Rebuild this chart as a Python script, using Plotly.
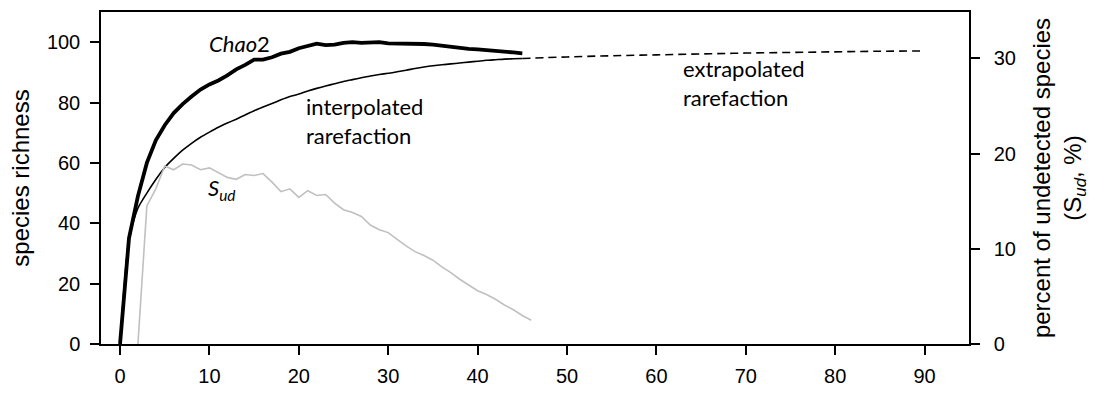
import plotly.graph_objects as go

# Sampling effort (number of samples)
samples_obs = list(range(0, 46))
samples_ext = [45, 50, 55, 60, 65, 70, 75, 80, 85, 90]
samples_sud = list(range(2, 47))

# Chao2 estimator of total richness
chao2 = [0, 35, 49, 60, 67.5, 72.5, 76.5, 79.5, 82, 84.3,
         86, 87.3, 89, 91, 92.5, 94.2, 94.2, 95, 96.2, 96.8,
         98, 98.8, 99.5, 99, 99.2, 99.8, 100, 99.8, 99.8, 100,
         99.6, 99.6, 99.5, 99.5, 99.4, 99.2, 98.8, 98.5, 98.2, 97.8,
         97.6, 97.4, 97.3, 97, 96.6, 96.3]

# Sample-based rarefaction (interpolated part)
rarefaction = [0, 35, 45, 50, 54.5, 58.5, 61.5, 64.2, 66.5, 68.5,
               70.2, 71.8, 73.2, 74.5, 75.9, 77.3, 78.5, 79.7, 80.9, 82,
               82.8, 83.8, 84.7, 85.5, 86.2, 87, 87.6, 88.2, 88.8, 89.3,
               89.7, 90.2, 90.7, 91.3, 91.8, 92.2, 92.5, 92.8, 93.1, 93.4,
               93.7, 94, 94.2, 94.4, 94.5, 94.6]

# Extrapolated rarefaction
rarefaction_ext = [94.6, 95.1, 95.5, 95.8, 96.1, 96.4, 96.6, 96.8, 97.0, 97.1]

# Percent of undetected species
s_ud = [0, 14.5, 16.3, 18.7, 18.3, 18.9, 18.8, 18.3, 18.5, 18.0,
        17.5, 17.3, 17.8, 17.7, 17.9, 17.0, 16.0, 16.3, 15.4, 16.1,
        15.6, 15.7, 14.8, 14.1, 13.8, 13.4, 12.5, 12.0, 11.7, 11.0,
        10.3, 9.7, 9.3, 8.8, 8.1, 7.5, 6.8, 6.2, 5.6, 5.2,
        4.7, 4.1, 3.6, 3.0, 2.5]

x_ticks = [0, 10, 20, 30, 40, 50, 60, 70, 80, 90]
y_ticks = [0, 20, 40, 60, 80, 100]
y2_ticks = [0, 10, 20, 30]

TICK_FONT = dict(family="Liberation Sans, Arial, sans-serif", size=20, color="black")
TITLE_FONT = dict(family="Liberation Sans, Arial, sans-serif", size=24, color="black")
NOTE_FONT = dict(family="Lato, Carlito, sans-serif", size=22, color="black")

fig = go.Figure()

fig.add_trace(go.Scatter(
    x=samples_sud, y=s_ud, yaxis="y2", mode="lines",
    line=dict(color="#c0c0c0", width=1.6), showlegend=False))

fig.add_trace(go.Scatter(
    x=samples_ext, y=rarefaction_ext, mode="lines",
    line=dict(color="black", width=1.6, dash="8px,5px", shape="spline"),
    showlegend=False))

fig.add_trace(go.Scatter(
    x=samples_obs, y=rarefaction, mode="lines",
    line=dict(color="black", width=1.6, shape="spline", smoothing=0.6),
    showlegend=False))

fig.add_trace(go.Scatter(
    x=samples_obs, y=chao2, mode="lines",
    line=dict(color="black", width=3.8),
    showlegend=False))

# Curve labels
annotations = [
    dict(x=13.4, y=99.7, text="<i>Chao</i>2", xanchor="center"),
    dict(x=20.6, y=73.9, text="interpolated<br>rarefaction", xanchor="left", align="left"),
    dict(x=62.7, y=86.4, text="extrapolated<br>rarefaction", xanchor="left", align="left"),
    dict(x=11.4, y=51.3, text="<i>S</i><sub><i>ud</i></sub>", xanchor="center"),
]
for a in annotations:
    a.update(xref="x", yref="y", yanchor="middle", showarrow=False, font=NOTE_FONT)

fig.update_layout(
    width=1093, height=397,
    margin=dict(l=101, r=124, t=10, b=46, pad=0),
    paper_bgcolor="white", plot_bgcolor="white",
    annotations=annotations,
    xaxis=dict(
        range=[-2.13, 94.97], tickvals=x_ticks, showgrid=False, zeroline=False,
        showline=True, linecolor="black", linewidth=1.5, mirror=True,
        ticks="outside", ticklen=9, tickwidth=1.5, tickcolor="black",
        tickfont=TICK_FONT, ticklabelstandoff=4),
    yaxis=dict(
        range=[0, 110], tickvals=y_ticks, showgrid=False, zeroline=False,
        showline=True, linecolor="black", linewidth=1.5,
        ticks="outside", ticklen=9, tickwidth=1.5, tickcolor="black",
        tickfont=TICK_FONT, ticklabelstandoff=6,
        title=dict(text="species richness", font=TITLE_FONT, standoff=10)),
    yaxis2=dict(
        range=[0, 34.87], tickvals=y2_ticks, overlaying="y", side="right",
        showgrid=False, zeroline=False,
        showline=True, linecolor="black", linewidth=1.5,
        ticks="outside", ticklen=9, tickwidth=1.5, tickcolor="black",
        tickfont=TICK_FONT, ticklabelstandoff=10,
        title=dict(text="percent of undetected species<br>(S<sub><i>ud</i></sub>, %)",
                   font=TITLE_FONT, standoff=18)),
)

fig.write_html("out.html")
